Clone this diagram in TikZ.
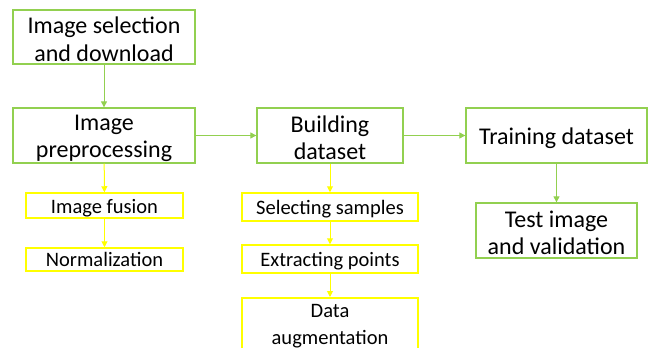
\documentclass[tikz,border=0pt]{standalone}
\usepackage{fontspec}
\setmainfont{Carlito}
\usetikzlibrary{arrows.meta}
\definecolor{gbox}{RGB}{146,208,80}
\definecolor{ybox}{RGB}{255,255,0}
\newcommand\bigup{\rule{0pt}{21.5pt}}
\newcommand\smallup{\rule{0pt}{19pt}}
\tikzset{
  bigbox/.style={draw=gbox, line width=1.3pt, inner sep=0pt, align=center,
    font=\fontsize{24}{27.5}\selectfont},
  smallbox/.style={draw=ybox, line width=1.5pt, inner sep=0pt, align=center,
    font=\fontsize{20.5}{27}\selectfont},
  garrow/.style={draw=gbox, line width=1pt, -{Triangle[length=6pt,width=6pt]}},
  yarrow/.style={draw=ybox, line width=1pt, -{Triangle[length=6pt,width=6pt]}},
}
\begin{document}
\begin{tikzpicture}[x=1pt,y=-1pt]
\useasboundingbox (0,0) rectangle (649,348);
\clip (0,0) rectangle (649,348);
\node[bigbox, minimum width=182pt, minimum height=54pt] (sel) at (104,37) {\bigup Image selection\\and download};
\node[bigbox, minimum width=182pt, minimum height=55pt] (pre) at (104,135.5) {\bigup Image\\preprocessing};
\node[bigbox, minimum width=146pt, minimum height=55pt] (build) at (330,135.5) {\bigup Building\\dataset};
\node[bigbox, minimum width=181pt, minimum height=55pt] (train) at (556.5,135.5) {\bigup Training dataset};
\node[bigbox, minimum width=161pt, minimum height=55pt] (test) at (556.5,230.5) {\bigup Test image\\and validation};
\node[smallbox, minimum width=157pt, minimum height=25pt] (fus) at (104.5,205.5) {\smallup Image fusion};
\node[smallbox, minimum width=157pt, minimum height=23pt] (norm) at (104.5,259.5) {Normalization};
\node[smallbox, minimum width=176pt, minimum height=28pt] (samp) at (330,207) {\smallup Selecting samples};
\node[smallbox, minimum width=176pt, minimum height=28pt] (extr) at (330,259) {\smallup Extracting points};
\node[smallbox, minimum width=176pt, anchor=north, inner ysep=7pt, text depth=50pt] (aug) at (330,297) {Data\\augmentation};
\draw[garrow] (sel) -- (pre);
\draw[garrow] (pre) -- (build);
\draw[garrow] (build) -- (train);
\draw[garrow] (train) -- (test);
\draw[yarrow] (pre) -- (fus);
\draw[yarrow] (fus) -- (norm);
\draw[yarrow] (build) -- (samp);
\draw[yarrow] (samp) -- (extr);
\draw[yarrow] (extr) -- (aug);
\end{tikzpicture}
\end{document}
